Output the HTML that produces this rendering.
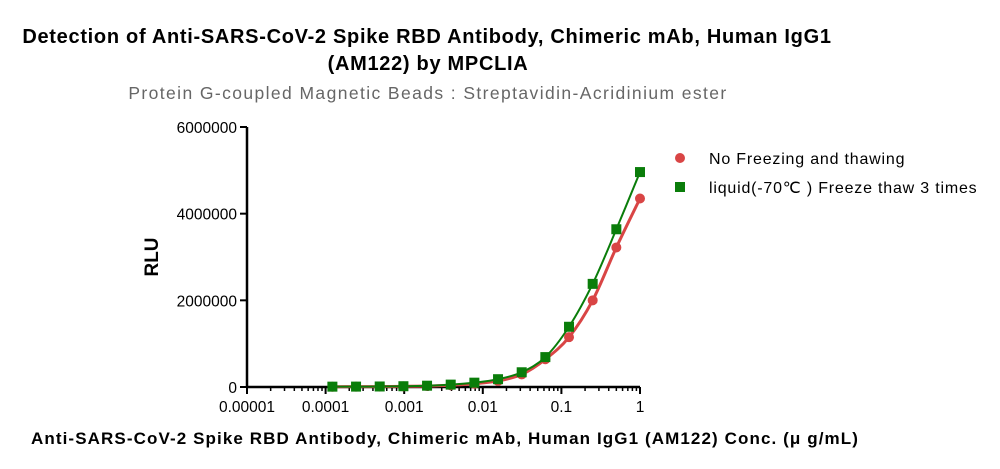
<!DOCTYPE html>
<html><head><meta charset="utf-8"><style>
body{margin:0;background:#fff;}
svg{display:block;font-family:"Liberation Sans",Arial,sans-serif;}
</style></head><body>
<svg id="chart" width="1000" height="469" viewBox="0 0 1000 469">
<text x="427" y="43" text-anchor="middle" font-size="20" font-weight="bold" letter-spacing="0.7" fill="#000">Detection of Anti-SARS-CoV-2 Spike RBD Antibody, Chimeric mAb, Human IgG1</text>
<text x="428" y="70" text-anchor="middle" font-size="20" font-weight="bold" letter-spacing="0.7" fill="#000">(AM122) by MPCLIA</text>
<text x="428" y="99" text-anchor="middle" font-size="17.5" letter-spacing="1.4" fill="#666">Protein G-coupled Magnetic Beads : Streptavidin-Acridinium ester</text>
<text transform="translate(158,257) rotate(-90)" text-anchor="middle" font-size="19" font-weight="bold">RLU</text>
<text x="445" y="444" text-anchor="middle" font-size="17" font-weight="bold" letter-spacing="1.1">Anti-SARS-CoV-2 Spike RBD Antibody, Chimeric mAb, Human IgG1 (AM122) Conc. (μ g/mL)</text>
<g id="axes"></g>
<g id="series"></g>
<g>
<circle cx="680" cy="158" r="5" fill="#d94545"/>
<text x="709" y="164" font-size="16" letter-spacing="0.8">No Freezing and thawing</text>
<rect x="675" y="182" width="10" height="10" fill="#0a7d0a"/>
<text x="709" y="193" font-size="16" letter-spacing="0.8">liquid(-70℃ ) Freeze thaw 3 times</text>
</g>
</svg>
<script>
const concentrations=[1,0.5,0.25,0.125,0.0625,0.03125,0.015625,0.0078125,0.00390625,0.001953,0.000977,0.000488,0.000244,0.000122];
const noFreezeValues=[4350000,3220000,2000000,1150000,640000,290000,140000,75000,40000,22000,15000,10000,8000,7000];
const freezeThawValues=[4960000,3640000,2380000,1390000,690000,340000,180000,100000,55000,30000,18000,12000,9000,8000];
const yTicks=[0,2000000,4000000,6000000];
const yTickLabels=["0","2000000","4000000","6000000"];
const xTicks=[0.00001,0.0001,0.001,0.01,0.1,1];
const xTickLabels=["0.00001","0.0001","0.001","0.01","0.1","1"];
const NS="http://www.w3.org/2000/svg";
const X0=247,X1=640,Y0=387,Y1=127;
const xs=v=>X0+(Math.log10(v)+5)/5*(X1-X0);
const ys=v=>Y0-v/6000000*(Y0-Y1);
function mk(tag,attrs,parent){const e=document.createElementNS(NS,tag);for(const k in attrs)e.setAttribute(k,attrs[k]);parent.appendChild(e);return e;}
const ax=document.getElementById('axes');
let a=mk('line',{x1:X0,y1:Y1,x2:X0,y2:Y0,stroke:'#000','stroke-width':2.5},ax);


a=mk('line',{x1:X0,y1:Y0,x2:X1,y2:Y0,stroke:'#000','stroke-width':2.5},ax);


yTicks.forEach((t,i)=>{
 const y=ys(t);
 mk('line',{x1:X0-7,y1:y,x2:X0,y2:y,stroke:'#000','stroke-width':2},ax);
 const tx=mk('text',{x:X0-10,y:y+6,'text-anchor':'end','font-size':15.5},ax);
 tx.textContent=yTickLabels[i];
 
 
});
xTicks.forEach((t,i)=>{
 const x=xs(t);
 mk('line',{x1:x,y1:Y0,x2:x,y2:Y0+7,stroke:'#000','stroke-width':2},ax);
 const tx=mk('text',{x:x,y:Y0+25,'text-anchor':'middle','font-size':15.5},ax);
 tx.textContent=xTickLabels[i];
 
 
 if(i<xTicks.length-1){for(let m=2;m<=9;m++){const mx=xs(t*m);mk('line',{x1:mx,y1:Y0,x2:mx,y2:Y0+4,stroke:'#000','stroke-width':1.5},ax);}}
});
function curve(vals,color,w){
 const pts=concentrations.map((c,i)=>[xs(c),ys(vals[i])]).sort((p,q)=>p[0]-q[0]);
 let d='M'+pts[0][0]+','+pts[0][1];
 for(let i=0;i<pts.length-1;i++){
  const p0=pts[Math.max(0,i-1)],p1=pts[i],p2=pts[i+1],p3=pts[Math.min(pts.length-1,i+2)];
  const c1=[p1[0]+(p2[0]-p0[0])/6,p1[1]+(p2[1]-p0[1])/6],c2=[p2[0]-(p3[0]-p1[0])/6,p2[1]-(p3[1]-p1[1])/6];
  d+=' C'+c1+' '+c2+' '+p2;
 }
 return mk('path',{d:d,fill:'none',stroke:color,'stroke-width':w},document.getElementById('series'));
}
const sg=document.getElementById('series');
let p=curve(noFreezeValues,'#d94545',3);


p=curve(freezeThawValues,'#0a7d0a',2);


concentrations.forEach((c,i)=>{
 const m=mk('circle',{cx:xs(c),cy:ys(noFreezeValues[i]),r:5,fill:'#d94545'},sg);
 
 
});
concentrations.forEach((c,i)=>{
 const m=mk('rect',{x:xs(c)-5,y:ys(freezeThawValues[i])-5,width:10,height:10,fill:'#0a7d0a'},sg);
 
 
});
</script>
</body></html>
